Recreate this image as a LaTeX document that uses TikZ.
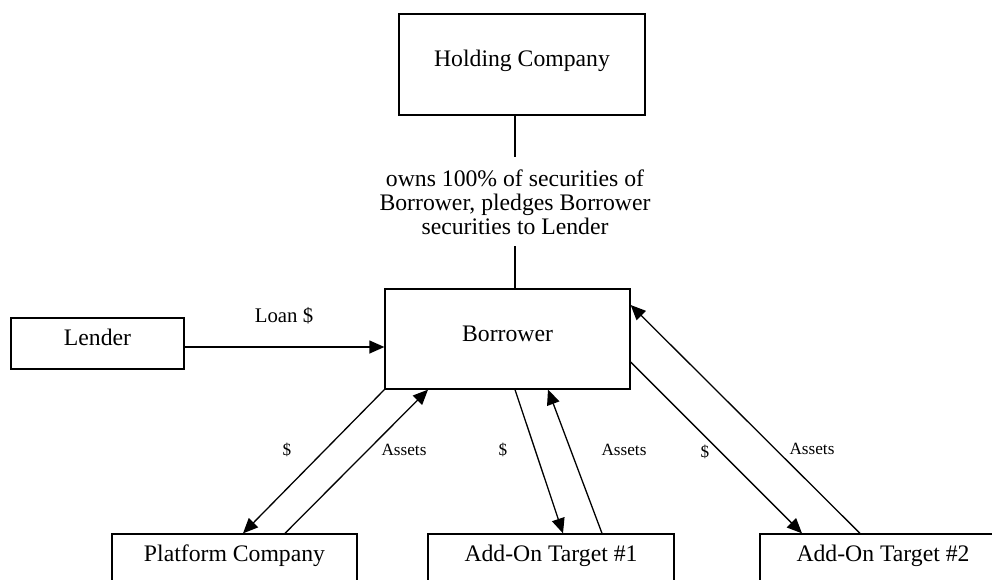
\documentclass[tikz,border=0pt]{standalone}
\usepackage{fontspec}
\setmainfont{Liberation Serif}
\usetikzlibrary{arrows.meta,positioning,calc}

\tikzset{
  entity/.style={draw, line width=1.3pt, inner sep=0pt, text height=16pt, text depth=12pt,
    font=\fontsize{23.7}{24}\selectfont},
  bigbox/.style={entity, minimum width=246pt, minimum height=101pt},
  smallbox/.style={entity, minimum width=246pt, minimum height=51pt},
  flow/.style={-{Triangle[length=15pt,width=13pt]}, line width=1.3pt},
  flowlabel/.style={inner sep=0pt, font=\fontsize{17.2}{18}\selectfont},
}

\begin{document}
\begin{tikzpicture}[x=1pt,y=-1pt]
  \useasboundingbox (0,0) rectangle (992,580);
  % parties
  \node[bigbox] (holding) at (522,64.5) {Holding Company};
  \node[bigbox, minimum width=245pt, minimum height=100pt] (borrower) at (507.5,339) {Borrower};
  \node[smallbox, minimum width=173pt] (lender) at (97.5,343.5) {Lender};
  \node[smallbox, minimum width=245pt] (platform) at (234.5,559.5) {Platform Company};
  \node[smallbox] (targetA) at (551,559.5) {Add-On Target \#1};
  \node[smallbox] (targetB) at (883,559.5) {Add-On Target \#2};

  % ownership
  \node[align=center, inner sep=0pt, minimum height=88pt,
    font=\fontsize{23.7}{24}\selectfont] (owns) at (515,202)
    {owns 100\% of securities of\\Borrower, pledges Borrower\\securities to Lender};
  \draw[line width=1.3pt] (owns |- holding.south) -- ([yshift=1pt]owns.north);
  \draw[line width=1.3pt] (owns.south) -- (owns |- borrower.north);

  % loan
  \draw[flow] ([yshift=-3.5pt]lender.east) -- ([yshift=-3.5pt]lender.east -| borrower.west);
  \node[inner sep=0pt, font=\fontsize{20.8}{22}\selectfont] (loan) at (284,316) {Loan \$};

  % money down, assets up
  \draw[flow] (borrower.south west) -- ([xshift=8.5pt]platform.north);
  \draw[flow] ([xshift=50.5pt]platform.north) -- ([xshift=-79.5pt]borrower.south);
  \draw[flow] ([xshift=7.5pt]borrower.south) -- ([xshift=12pt]targetA.north);
  \draw[flow] ([xshift=51pt]targetA.north) -- ([xshift=40.5pt]borrower.south);
  \draw[flow] ([yshift=-23pt]borrower.east) -- ([xshift=-81pt]targetB.north);
  \draw[flow] ([xshift=-23pt]targetB.north) -- ([yshift=34pt]borrower.east);

  \node[flowlabel] (payP) at (287,450) {\$};
  \node[flowlabel] (assetsP) at (404,450) {Assets};
  \node[flowlabel] (payA) at (503,450) {\$};
  \node[flowlabel] (assetsA) at (624,450) {Assets};
  \node[flowlabel] (payB) at (705,452) {\$};
  \node[flowlabel] (assetsB) at (812,449) {Assets};
\end{tikzpicture}
\end{document}
